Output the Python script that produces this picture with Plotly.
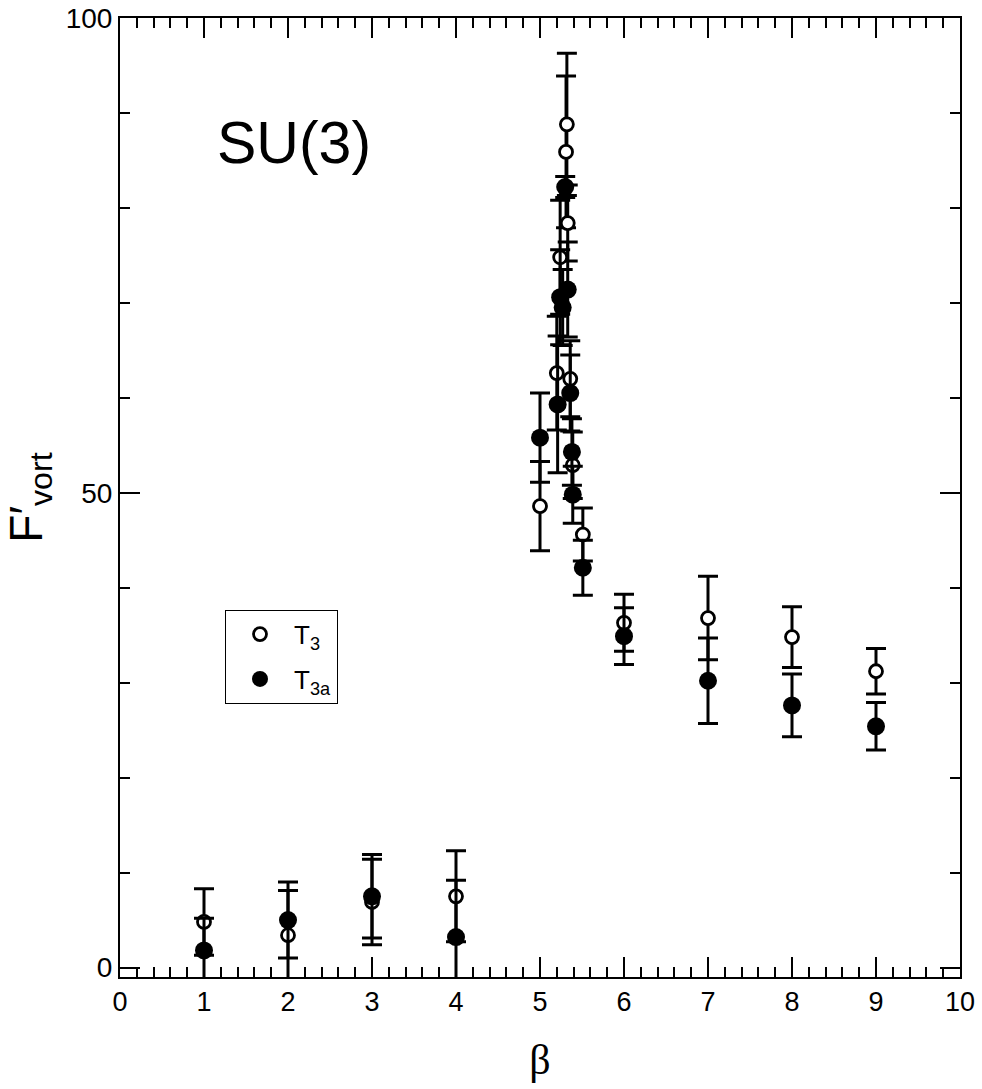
import plotly.graph_objects as go

# T3 (open circles)
beta_t3 = [1, 2, 3, 4, 5.0, 5.2, 5.24, 5.31, 5.32, 5.33, 5.36, 5.39, 5.51, 6, 7, 8, 9]
f_t3 = [4.8, 3.4, 6.9, 7.5, 48.6, 62.6, 74.8, 85.9, 88.8, 78.4, 62.0, 52.9, 45.6, 36.3, 36.8, 34.8, 31.2]
err_t3 = [3.5, 4.7, 4.5, 4.8, 4.7, 6.0, 6.0, 8.0, 7.5, 4.0, 4.0, 3.5, 2.8, 3.0, 4.4, 3.2, 2.4]

# T3a (filled circles)
beta_t3a = [1, 2, 3, 4, 5.0, 5.21, 5.24, 5.27, 5.30, 5.33, 5.36, 5.38, 5.39, 5.51, 6, 7, 8, 9]
f_t3a = [1.8, 5.0, 7.5, 3.2, 55.8, 59.3, 70.6, 69.5, 82.2, 71.4, 60.5, 54.3, 49.8, 42.1, 34.9, 30.2, 27.6, 25.4]
err_t3a = [3.4, 4.0, 4.4, 6.0, 4.7, 7.2, 5.0, 4.0, 1.1, 5.0, 4.0, 3.5, 3.0, 2.9, 3.0, 4.5, 3.3, 2.5]

x_ticks = list(range(0, 11))
y_ticks = [0, 50, 100]

FONT = "Arial, Liberation Sans, Helvetica, sans-serif"

fig = go.Figure()
fig.add_trace(go.Scatter(
    x=beta_t3, y=f_t3, mode="markers", name="T<sub>3</sub>", legendgroup="a",
    marker=dict(symbol="circle", size=13, color="white", line=dict(color="black", width=2.8)),
    error_y=dict(type="data", array=err_t3, visible=True, color="black", thickness=3, width=10),
))
fig.add_trace(go.Scatter(
    x=beta_t3a, y=f_t3a, mode="markers", name="T<sub>3a</sub>", legendgroup="b",
    marker=dict(symbol="circle", size=18, color="black", line=dict(width=0)),
    error_y=dict(type="data", array=err_t3a, visible=True, color="black", thickness=3, width=10),
))

fig.add_annotation(x=2.07, y=86.8, xref="x", yref="y", text="SU(3)", showarrow=False,
                   font=dict(family=FONT, size=59, color="black"))

fig.update_layout(
    width=982, height=1089,
    margin=dict(l=120, r=22, t=18, b=112),
    paper_bgcolor="white", plot_bgcolor="white",
    font=dict(family=FONT, color="black"),
    showlegend=True,
    legend=dict(x=0.125, y=0.383, xanchor="left", yanchor="top",
                bordercolor="black", borderwidth=1, bgcolor="white",
                font=dict(family=FONT, size=26), itemwidth=58,
                tracegroupgap=8),
)
fig.update_xaxes(
    range=[0, 10], tickvals=x_ticks, ticktext=[str(v) for v in x_ticks],
    ticks="inside", ticklen=20, tickwidth=1.5, tickcolor="black",
    minor=dict(dtick=0.2, tick0=0, ticks="inside", ticklen=10, tickwidth=1.5, tickcolor="black"),
    showline=True, linecolor="black", linewidth=2, mirror="allticks",
    showgrid=False, zeroline=False, automargin=False,
    tickfont=dict(family=FONT, size=27),
    title=dict(text="β", font=dict(family="Liberation Serif, Times New Roman, serif", size=42), standoff=28),
)
fig.update_yaxes(
    range=[-1, 100], tickvals=y_ticks, ticktext=[str(v) for v in y_ticks],
    ticks="inside", ticklen=20, tickwidth=1.5, tickcolor="black",
    minor=dict(dtick=10, tick0=0, ticks="inside", ticklen=10, tickwidth=1.5, tickcolor="black"),
    showline=True, linecolor="black", linewidth=2, mirror="allticks",
    showgrid=False, zeroline=False, automargin=False,
    tickfont=dict(family=FONT, size=28),
    title=dict(text="F′<sub>vort</sub>", font=dict(family=FONT, size=46), standoff=10),
)

# remove the browser's default 8px page margin so the figure sits at the window's corner
fig.write_html("out.html", config={"displayModeBar": False},
               post_script="document.body.style.margin='0';")
